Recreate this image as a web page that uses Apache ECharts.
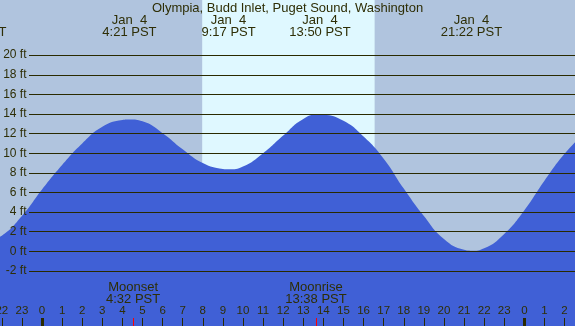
<!DOCTYPE html>
<html><head><meta charset="utf-8">
<script src="https://cdn.jsdelivr.net/npm/echarts@6/dist/echarts.min.js"></script>
<style>html,body{margin:0;padding:0;background:#b0c4de}#c{width:575px;height:326px}</style>
</head><body><div id="c"></div>
<script>
const chartTitle = 'Olympia, Budd Inlet, Puget Sound, Washington';
// tide curve (hours relative to Jan 4 00:00, feet)
const hours   = [-3, -2, -1, 0, 1, 2, 3, 4, 4.35, 5, 6, 7, 8, 9, 9.283, 10, 11, 12, 13, 13.833, 14, 15, 16, 17, 18, 19, 20, 21, 21.367, 22, 23, 24, 25, 26, 27];
const heights = [0.7, 1.6, 3.6, 6.3, 8.8, 11.0, 12.7, 13.4, 13.45, 13.25, 12.05, 10.4, 9.0, 8.4, 8.36, 8.65, 10.0, 11.8, 13.5, 13.97, 13.95, 13.3, 11.7, 9.45, 6.4, 3.6, 1.25, 0.15, 0.06, 0.32, 1.78, 4.2, 7.2, 9.95, 12.1];
const tideTimes = [-3.3, 4.35, 9.283, 13.833, 21.367];
const tideDates = ['Jan  3', 'Jan  4', 'Jan  4', 'Jan  4', 'Jan  4'];
const tideClock = ['20:42 PST', '4:21 PST', '9:17 PST', '13:50 PST', '21:22 PST'];
const moonTimes = [4.533, 13.633];
const moonEvents = ['Moonset', 'Moonrise'];
const moonClock = ['4:32 PST', '13:38 PST'];
const sunrise = 7.97, sunset = 16.55;
const hourTicks = [-2, -1, 0, 1, 2, 3, 4, 5, 6, 7, 8, 9, 10, 11, 12, 13, 14, 15, 16, 17, 18, 19, 20, 21, 22, 23, 24, 25, 26];
const midnightTicks = [0, 24];
const heightTicks = [-2, 0, 2, 4, 6, 8, 10, 12, 14, 16, 18, 20];

const XMIN = -2.09, XMAX = 26.52, YMIN = -7.61, YMAX = 25.62;
const FONT = 'Liberation Sans';
const TXT = '#2e2e06';
const LINE = '#2a2a00';
const inRange = t => t >= XMIN && t <= XMAX;
const idxOf = (arr, v) => arr.findIndex(t => Math.abs(t - v) < 1e-6);

const chart = echarts.init(document.getElementById('c'), null, {renderer: 'canvas'});
const baseX = {type: 'value', gridIndex: 0, min: XMIN, max: XMAX, z: 10, axisLine: {show: false, onZero: false}, splitLine: {show: false}};
chart.setOption({
  animation: false,
  backgroundColor: '#b0c4de',
  title: {text: chartTitle, left: 'center', top: 1, padding: 0, z: 10,
    textStyle: {fontFamily: FONT, fontSize: 13, fontWeight: 'normal', color: TXT, lineHeight: 15}},
  grid: [
    {left: 0, right: 0, top: 0, bottom: 0, containLabel: false, outerBoundsMode: 'none'},
    {left: 29, right: 0, top: 0, bottom: 0, containLabel: false, outerBoundsMode: 'none'}
  ],
  xAxis: [
    Object.assign({}, baseX, {position: 'bottom',
      axisTick: {show: true, inside: true, length: 8, interval: 0, customValues: hourTicks, lineStyle: {color: LINE, width: 1}},
      axisLabel: {show: true, inside: true, margin: 9, interval: 0, hideOverlap: false, customValues: hourTicks, fontFamily: FONT, fontSize: 11.5, color: TXT,
        formatter: v => String(((Math.round(v) % 24) + 24) % 24)}}),
    Object.assign({}, baseX, {position: 'bottom',
      axisTick: {show: true, inside: true, length: 8, interval: 0, customValues: midnightTicks, lineStyle: {color: LINE, width: 3}},
      axisLabel: {show: false}}),
    Object.assign({}, baseX, {position: 'bottom',
      axisTick: {show: true, inside: true, length: 8, interval: 0, customValues: moonTimes, lineStyle: {color: '#ff0000', width: 1}},
      axisLabel: {show: true, inside: true, margin: 20.5, interval: 0, hideOverlap: false, customValues: moonTimes, fontFamily: FONT, fontSize: 13, color: TXT, lineHeight: 12,
        formatter: v => { const i = idxOf(moonTimes, v); return moonEvents[i] + '\n' + moonClock[i]; }}}),
    Object.assign({}, baseX, {position: 'top',
      axisTick: {show: false},
      axisLabel: {show: true, inside: true, margin: 14, interval: 0, hideOverlap: false, customValues: tideTimes.filter(inRange), fontFamily: FONT, fontSize: 13, color: TXT, lineHeight: 12.4,
        formatter: v => { const i = idxOf(tideTimes, v); return tideDates[i] + '\n' + tideClock[i]; }}}),
    {type: 'value', gridIndex: 1, min: 0, max: 1, show: false}
  ],
  yAxis: [
    {type: 'value', gridIndex: 0, min: YMIN, max: YMAX, show: false},
    {type: 'value', gridIndex: 1, min: YMIN, max: YMAX, z: 10, axisLine: {show: false, onZero: false}, axisTick: {show: false}, splitLine: {show: false},
      axisLabel: {show: true, margin: 2.5, interval: 0, hideOverlap: false, customValues: heightTicks, fontFamily: FONT, fontSize: 12, color: TXT, formatter: v => v + ' ft'}}
  ],
  series: [
    {type: 'line', xAxisIndex: 0, yAxisIndex: 0, data: [], z: 0, silent: true,
      markArea: {silent: true, itemStyle: {color: '#dff8ff'}, data: [[{xAxis: sunrise}, {xAxis: sunset}]]}},
    {type: 'line', xAxisIndex: 0, yAxisIndex: 0, z: 2, smooth: 0.5, showSymbol: false, silent: true,
      data: hours.map((h, i) => [h, heights[i]]),
      lineStyle: {width: 0}, areaStyle: {color: '#4060d6', opacity: 1, origin: 'start'}},
    {type: 'line', xAxisIndex: 4, yAxisIndex: 1, data: [], z: 3, silent: true,
      markLine: {silent: true, symbol: 'none', label: {show: false}, lineStyle: {color: LINE, width: 1.2, type: 'solid'},
        data: heightTicks.map(v => ({yAxis: v}))}}
  ]
});

// tide labels that fall outside the visible range (partially visible at the edge)
const extra = [];
tideTimes.forEach((t, i) => {
  if (!inRange(t)) {
    const px = chart.convertToPixel({xAxisIndex: 0}, t);
    extra.push({type: 'text', x: px, y: 14, z: 10,
      style: {text: tideDates[i] + '\n' + tideClock[i], fill: TXT, fontSize: 13, fontFamily: FONT, align: 'center', verticalAlign: 'top', lineHeight: 12.4}});
  }
});
chart.setOption({graphic: extra});
</script></body></html>
